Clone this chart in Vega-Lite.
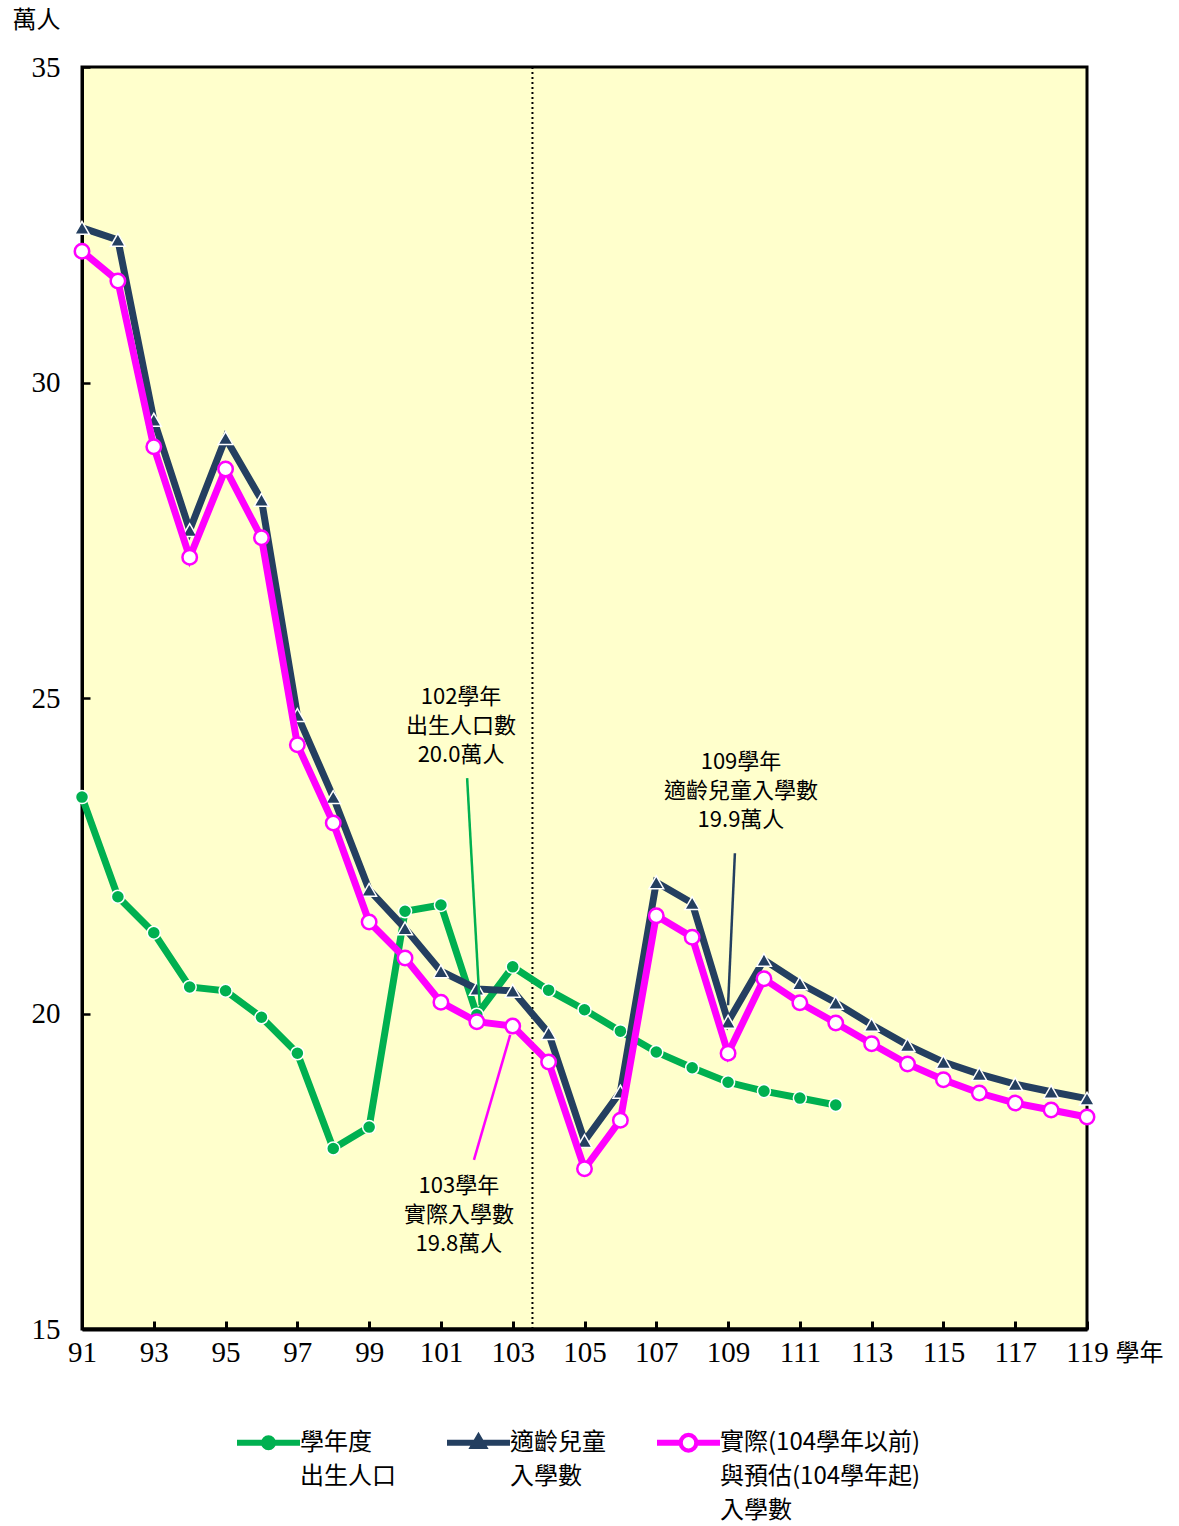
{
  "$schema": "https://vega.github.io/schema/vega-lite/v6.json",
  "width": 1005,
  "height": 1262,
  "autosize": {"type": "none"},
  "padding": {"left": 82, "top": 67, "right": 92, "bottom": 197},
  "background": "white",
  "config": {
    "view": {"fill": "#FFFFCC", "stroke": "black", "strokeWidth": 3},
    "axis": {
      "labelFont": "Liberation Serif",
      "labelFontSize": 29,
      "labelColor": "black",
      "tickColor": "black",
      "domainColor": "black",
      "grid": false,
      "titleFont": "Noto Sans CJK TC",
      "titleFontWeight": "normal",
      "titleFontSize": 24,
      "titleColor": "black"
    },
    "legend": {
      "orient": "none",
      "legendX": 155,
      "legendY": 1344,
      "direction": "horizontal",
      "columns": 3,
      "columnPadding": 46,
      "symbolSize": 3600,
      "labelOffset": 0,
      "labelFont": "Noto Sans CJK TC",
      "labelFontSize": 24,
      "labelColor": "black",
      "labelBaseline": "top",
      "labelLimit": 400
    }
  },
  "datasets": {
    "series": [
      {"year": 91, "series": "學年度出生人口", "value": 23.43},
      {"year": 92, "series": "學年度出生人口", "value": 21.85},
      {"year": 93, "series": "學年度出生人口", "value": 21.28},
      {"year": 94, "series": "學年度出生人口", "value": 20.42},
      {"year": 95, "series": "學年度出生人口", "value": 20.36},
      {"year": 96, "series": "學年度出生人口", "value": 19.94},
      {"year": 97, "series": "學年度出生人口", "value": 19.37},
      {"year": 98, "series": "學年度出生人口", "value": 17.86},
      {"year": 99, "series": "學年度出生人口", "value": 18.2},
      {"year": 100, "series": "學年度出生人口", "value": 21.62},
      {"year": 101, "series": "學年度出生人口", "value": 21.72},
      {"year": 102, "series": "學年度出生人口", "value": 19.98},
      {"year": 103, "series": "學年度出生人口", "value": 20.74},
      {"year": 104, "series": "學年度出生人口", "value": 20.37},
      {"year": 105, "series": "學年度出生人口", "value": 20.06},
      {"year": 106, "series": "學年度出生人口", "value": 19.72},
      {"year": 107, "series": "學年度出生人口", "value": 19.39},
      {"year": 108, "series": "學年度出生人口", "value": 19.14},
      {"year": 109, "series": "學年度出生人口", "value": 18.91},
      {"year": 110, "series": "學年度出生人口", "value": 18.77},
      {"year": 111, "series": "學年度出生人口", "value": 18.66},
      {"year": 112, "series": "學年度出生人口", "value": 18.55},
      {"year": 91, "series": "適齡兒童入學數", "value": 32.45},
      {"year": 92, "series": "適齡兒童入學數", "value": 32.26},
      {"year": 93, "series": "適齡兒童入學數", "value": 29.41},
      {"year": 94, "series": "適齡兒童入學數", "value": 27.66},
      {"year": 95, "series": "適齡兒童入學數", "value": 29.12},
      {"year": 96, "series": "適齡兒童入學數", "value": 28.14},
      {"year": 97, "series": "適齡兒童入學數", "value": 24.73},
      {"year": 98, "series": "適齡兒童入學數", "value": 23.43},
      {"year": 99, "series": "適齡兒童入學數", "value": 21.96},
      {"year": 100, "series": "適齡兒童入學數", "value": 21.35},
      {"year": 101, "series": "適齡兒童入學數", "value": 20.67},
      {"year": 102, "series": "適齡兒童入學數", "value": 20.39},
      {"year": 103, "series": "適齡兒童入學數", "value": 20.36},
      {"year": 104, "series": "適齡兒童入學數", "value": 19.69},
      {"year": 105, "series": "適齡兒童入學數", "value": 17.98},
      {"year": 106, "series": "適齡兒童入學數", "value": 18.76},
      {"year": 107, "series": "適齡兒童入學數", "value": 22.08},
      {"year": 108, "series": "適齡兒童入學數", "value": 21.75},
      {"year": 109, "series": "適齡兒童入學數", "value": 19.87},
      {"year": 110, "series": "適齡兒童入學數", "value": 20.85},
      {"year": 111, "series": "適齡兒童入學數", "value": 20.48},
      {"year": 112, "series": "適齡兒童入學數", "value": 20.17},
      {"year": 113, "series": "適齡兒童入學數", "value": 19.82},
      {"year": 114, "series": "適齡兒童入學數", "value": 19.5},
      {"year": 115, "series": "適齡兒童入學數", "value": 19.23},
      {"year": 116, "series": "適齡兒童入學數", "value": 19.04},
      {"year": 117, "series": "適齡兒童入學數", "value": 18.88},
      {"year": 118, "series": "適齡兒童入學數", "value": 18.76},
      {"year": 119, "series": "適齡兒童入學數", "value": 18.65},
      {"year": 91, "series": "實際與預估入學數", "value": 32.08},
      {"year": 92, "series": "實際與預估入學數", "value": 31.61},
      {"year": 93, "series": "實際與預估入學數", "value": 28.98},
      {"year": 94, "series": "實際與預估入學數", "value": 27.23},
      {"year": 95, "series": "實際與預估入學數", "value": 28.63},
      {"year": 96, "series": "實際與預估入學數", "value": 27.54},
      {"year": 97, "series": "實際與預估入學數", "value": 24.26},
      {"year": 98, "series": "實際與預估入學數", "value": 23.02},
      {"year": 99, "series": "實際與預估入學數", "value": 21.45},
      {"year": 100, "series": "實際與預估入學數", "value": 20.88},
      {"year": 101, "series": "實際與預估入學數", "value": 20.18},
      {"year": 102, "series": "實際與預估入學數", "value": 19.87},
      {"year": 103, "series": "實際與預估入學數", "value": 19.8},
      {"year": 104, "series": "實際與預估入學數", "value": 19.23},
      {"year": 105, "series": "實際與預估入學數", "value": 17.54},
      {"year": 106, "series": "實際與預估入學數", "value": 18.31},
      {"year": 107, "series": "實際與預估入學數", "value": 21.55},
      {"year": 108, "series": "實際與預估入學數", "value": 21.21},
      {"year": 109, "series": "實際與預估入學數", "value": 19.37},
      {"year": 110, "series": "實際與預估入學數", "value": 20.55},
      {"year": 111, "series": "實際與預估入學數", "value": 20.17},
      {"year": 112, "series": "實際與預估入學數", "value": 19.85},
      {"year": 113, "series": "實際與預估入學數", "value": 19.52},
      {"year": 114, "series": "實際與預估入學數", "value": 19.2},
      {"year": 115, "series": "實際與預估入學數", "value": 18.95},
      {"year": 116, "series": "實際與預估入學數", "value": 18.74},
      {"year": 117, "series": "實際與預估入學數", "value": 18.58},
      {"year": 118, "series": "實際與預估入學數", "value": 18.47},
      {"year": 119, "series": "實際與預估入學數", "value": 18.36}
    ],
    "notes": [
      {"year": 101.56, "value": 25.18, "label": "102學年\n出生人口數\n20.0萬人"},
      {"year": 101.5, "value": 17.42, "label": "103學年\n實際入學數\n19.8萬人"},
      {"year": 109.36, "value": 24.14, "label": "109學年\n適齡兒童入學數\n19.9萬人"}
    ],
    "pointers": [
      {"series": "學年度出生人口", "year": 101.73, "value": 23.73, "year2": 102.08, "value2": 20.13},
      {"series": "實際與預估入學數", "year": 101.92, "value": 17.68, "year2": 102.93, "value2": 19.66},
      {"series": "適齡兒童入學數", "year": 109.19, "value": 22.54, "year2": 109.0, "value2": 20.13}
    ],
    "divider": [{"year": 103.55}]
  },
  "layer": [
    {
      "data": {"name": "divider"},
      "mark": {"type": "rule", "color": "black", "strokeWidth": 2, "strokeDash": [2, 3]},
      "encoding": {"x": {"field": "year", "type": "quantitative"}}
    },
    {
      "data": {"name": "series"},
      "encoding": {
        "x": {
          "field": "year",
          "type": "quantitative",
          "scale": {"domain": [91, 119], "nice": false, "zero": false},
          "axis": {
            "values": [91, 92, 93, 94, 95, 96, 97, 98, 99, 100, 101, 102, 103, 104, 105, 106, 107, 108, 109, 110, 111, 112, 113, 114, 115, 116, 117, 118, 119],
            "labelExpr": "datum.value % 2 == 1 ? datum.label : ''",
            "format": "d",
            "tickSize": -8,
            "tickWidth": 3,
            "domainWidth": 4,
            "labelPadding": 17,
            "labelOverlap": false,
            "labelFlush": false,
            "title": "學年",
            "titleX": 1033,
            "titleY": 24,
            "titleAlign": "left",
            "titleBaseline": "middle"
          }
        },
        "y": {
          "field": "value",
          "type": "quantitative",
          "scale": {"domain": [15, 35], "nice": false, "zero": false},
          "axis": {
            "values": [15, 20, 25, 30, 35],
            "format": "d",
            "tickSize": -8,
            "tickWidth": 2.5,
            "domainWidth": 3,
            "labelPadding": 30,
            "title": "萬人",
            "titleAngle": 0,
            "titleX": -70,
            "titleY": -47,
            "titleAlign": "left",
            "titleBaseline": "middle"
          }
        },
        "color": {
          "field": "series",
          "type": "nominal",
          "scale": {
            "domain": ["學年度出生人口", "適齡兒童入學數", "實際與預估入學數"],
            "range": ["#00B050", "#243F60", "#FF00FF"]
          },
          "legend": {
            "title": null,
            "labelExpr": "datum.value === '學年度出生人口' ? ['學年度','出生人口',' '] : datum.value === '適齡兒童入學數' ? ['適齡兒童','入學數',' '] : ['實際(104學年以前)','與預估(104學年起)','入學數']",
            "encode": {
              "symbols": {
                "update": {
                  "shape": {"signal": "datum.value === '學年度出生人口' ? 'M-1,-0.05L1,-0.05L1,0.05L-1,0.05ZM0.2,0A0.2,0.2,0,1,1,-0.2,0A0.2,0.2,0,1,1,0.2,0Z' : datum.value === '適齡兒童入學數' ? 'M-1,-0.05L1,-0.05L1,0.05L-1,0.05ZM0,-0.27L0.25,0.16L-0.25,0.16Z' : 'M-1,-0.05L-0.29,-0.05L-0.29,0.05L-1,0.05ZM0.29,-0.05L1,-0.05L1,0.05L0.29,0.05ZM0.28,0A0.28,0.28,0,1,1,-0.28,0A0.28,0.28,0,1,1,0.28,0ZM0.24,0A0.24,0.24,0,1,0,-0.24,0A0.24,0.24,0,1,0,0.24,0Z'"},
                  "stroke": {"signal": "datum.value === '學年度出生人口' ? '#00B050' : datum.value === '適齡兒童入學數' ? '#243F60' : '#FF00FF'"},
                  "strokeWidth": {"value": 3},
                  "size": {"value": 3600},
                  "opacity": {"value": 1},
                  "fillOpacity": {"value": 1}
                }
              },
              "labels": {"update": {"lineHeight": {"value": 34}, "dy": {"value": -12}}}
            }
          }
        }
      },
      "layer": [
        {
          "transform": [{"filter": "datum.series === '學年度出生人口'"}],
          "mark": {"type": "line", "strokeWidth": 7}
        },
        {
          "transform": [{"filter": "datum.series === '學年度出生人口'"}],
          "mark": {"type": "point", "shape": "circle", "filled": true, "size": 170, "stroke": "white", "strokeWidth": 1.5, "opacity": 1},
          "encoding": {"color": {"field": "series", "type": "nominal", "legend": null}}
        },
        {
          "transform": [{"filter": "datum.series === '適齡兒童入學數'"}],
          "mark": {"type": "line", "strokeWidth": 7}
        },
        {
          "transform": [{"filter": "datum.series === '適齡兒童入學數'"}],
          "mark": {"type": "point", "shape": "triangle-up", "filled": true, "size": 220, "stroke": "white", "strokeWidth": 1.5, "opacity": 1},
          "encoding": {"color": {"field": "series", "type": "nominal", "legend": null}}
        },
        {
          "transform": [{"filter": "datum.series === '實際與預估入學數'"}],
          "mark": {"type": "line", "strokeWidth": 7}
        },
        {
          "transform": [{"filter": "datum.series === '實際與預估入學數'"}],
          "mark": {"type": "point", "shape": "circle", "filled": false, "fill": "white", "size": 210, "strokeWidth": 2.5, "opacity": 1, "fillOpacity": 1},
          "encoding": {"color": {"field": "series", "type": "nominal", "legend": null}}
        }
      ]
    },
    {
      "data": {"name": "pointers"},
      "mark": {"type": "rule", "strokeWidth": 2.5},
      "encoding": {
        "x": {"field": "year", "type": "quantitative"},
        "x2": {"field": "year2"},
        "y": {"field": "value", "type": "quantitative"},
        "y2": {"field": "value2"},
        "color": {"field": "series", "type": "nominal", "legend": null}
      }
    },
    {
      "data": {"name": "notes"},
      "mark": {"type": "text", "font": "Noto Sans CJK TC", "fontSize": 22, "lineHeight": 29, "lineBreak": "\n", "color": "black", "align": "center", "baseline": "top"},
      "encoding": {
        "x": {"field": "year", "type": "quantitative"},
        "y": {"field": "value", "type": "quantitative"},
        "text": {"field": "label", "type": "nominal"}
      }
    }
  ]
}
